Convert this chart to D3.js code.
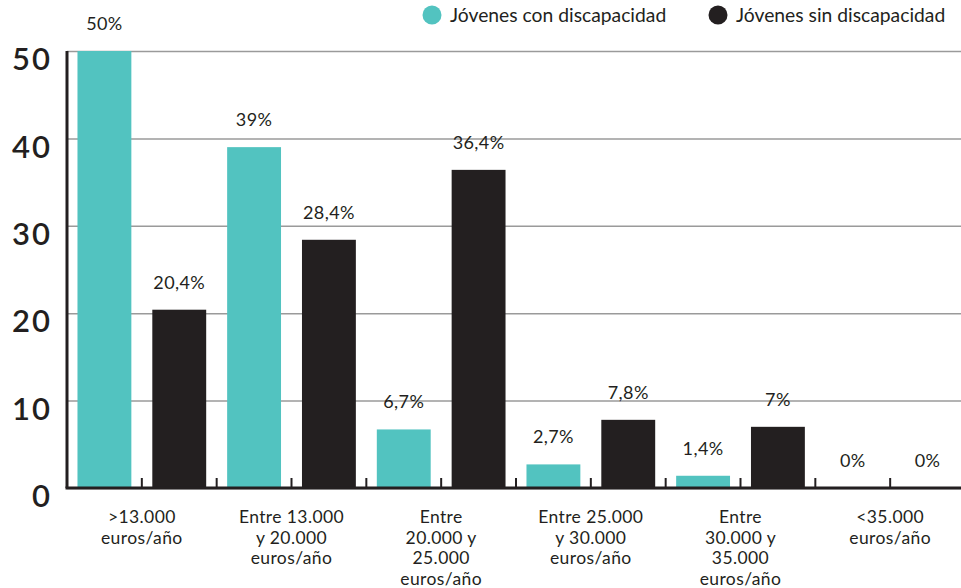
<!DOCTYPE html>
<html>
<head>
<meta charset="utf-8">
<script src="https://cdn.jsdelivr.net/npm/d3@7/dist/d3.min.js"></script>
<style>
  html, body { margin: 0; padding: 0; background: #fff; }
  svg { display: block; font-family: Lato, "Noto Sans", sans-serif; }
</style>
</head>
<body>
<svg id="chart" width="961" height="588"></svg>
<script>
// Income brackets (one label line per entry)
const categories = [
  [">13.000", "euros/año"],
  ["Entre 13.000", "y 20.000", "euros/año"],
  ["Entre", "20.000 y", "25.000", "euros/año"],
  ["Entre 25.000", "y 30.000", "euros/año"],
  ["Entre", "30.000 y", "35.000", "euros/año"],
  ["<35.000", "euros/año"]
];
const seriesNames = ["Jóvenes con discapacidad", "Jóvenes sin discapacidad"];
const conDiscapacidad = [50, 39, 6.7, 2.7, 1.4, 0];
const sinDiscapacidad = [20.4, 28.4, 36.4, 7.8, 7, 0];
const yTicks = [0, 10, 20, 30, 40, 50];

const colors = ["#52c3c0", "#231f20"];
const textColor = "#231f20";

const svg = d3.select("#chart");
const W = 961, H = 588;
const plotLeft = 67, plotRight = 965, plotTop = 51, plotBottom = 488;

const catKeys = categories.map(c => c.join(" "));
const x0 = d3.scaleBand().domain(catKeys).range([plotLeft, plotRight]).paddingInner(0).paddingOuter(0);
const x1 = d3.scaleBand().domain([0, 1]).range([0, x0.bandwidth()]).paddingInner(0.28).paddingOuter(0.14);
const y = d3.scaleLinear().domain([0, 50]).range([plotBottom, plotTop]);

// Horizontal grid lines + y tick labels
const yAxis = d3.axisLeft(y).tickValues(yTicks).tickSize(-(W - plotLeft)).tickFormat(d => d);
const gy = svg.append("g").attr("transform", `translate(${plotLeft},0)`).call(yAxis);
gy.select(".domain").remove();
gy.selectAll(".tick line").attr("stroke", "#9a9a9a").attr("stroke-width", 1.5);
gy.selectAll(".tick text")
  .attr("x", -15).attr("dy", "0.6em")
  .attr("fill", textColor)
  .style("font-size", "31px").style("font-weight", 600)
  .style("font-family", "Lato, sans-serif").style("letter-spacing", "2px");

// Bars
const rows = catKeys.map((k, i) => ({ key: k, values: [conDiscapacidad[i], sinDiscapacidad[i]] }));
const groups = svg.append("g").selectAll("g").data(rows).join("g")
  .attr("transform", d => `translate(${x0(d.key)},0)`);

groups.selectAll("rect").data(d => d.values.map((v, s) => ({ v, s }))).join("rect")
  .attr("x", d => x1(d.s))
  .attr("width", x1.bandwidth())
  .attr("y", d => y(d.v))
  .attr("height", d => y(0) - y(d.v))
  .attr("fill", d => colors[d.s]);

// Value labels
const fmt = v => String(v).replace(".", ",") + "%";
groups.selectAll("text.val").data(d => d.values.map((v, s) => ({ v, s }))).join("text")
  .attr("class", "val")
  .attr("x", d => x1(d.s) + x1.bandwidth() / 2)
  .attr("y", d => y(d.v) - 21)
  .attr("text-anchor", "middle")
  .attr("fill", textColor)
  .style("font-size", "18px")
  .style("letter-spacing", "0.4px")
  .text(d => fmt(d.v));

// Baseline with small ticks between bars
const axisG = svg.append("g");
const tickXs = [];
catKeys.forEach(k => {
  tickXs.push(x0(k) + x0.bandwidth() / 2);
  tickXs.push(x0(k) + x0.bandwidth());
});
axisG.selectAll("line.tk").data(tickXs).join("line")
  .attr("class", "tk")
  .attr("x1", d => d).attr("x2", d => d)
  .attr("y1", y(0)).attr("y2", y(0) - 10)
  .attr("stroke", textColor).attr("stroke-width", 2);
axisG.append("line")
  .attr("x1", plotLeft - 1.5).attr("x2", W)
  .attr("y1", y(0)).attr("y2", y(0))
  .attr("stroke", textColor).attr("stroke-width", 3);
axisG.append("line")
  .attr("x1", plotLeft).attr("x2", plotLeft)
  .attr("y1", y(50)).attr("y2", y(0))
  .attr("stroke", textColor).attr("stroke-width", 3);

// Category labels, one text element per line
const labelLines = [];
rows.forEach((r, i) => {
  categories[i].forEach((l, j) => labelLines.push({ key: r.key, l, j }));
});
svg.append("g").selectAll("text").data(labelLines).join("text")
  .attr("x", d => x0(d.key) + x0.bandwidth() / 2)
  .attr("y", d => 523 + d.j * 20.7)
  .attr("text-anchor", "middle")
  .attr("fill", textColor)
  .style("font-size", "17.5px")
  .style("letter-spacing", "0.4px")
  .text(d => d.l);

// Legend
const legend = svg.append("g");
const legendItems = [
  { name: seriesNames[0], color: colors[0], cx: 432 },
  { name: seriesNames[1], color: colors[1], cx: 718 }
];
const li = legend.selectAll("g").data(legendItems).join("g");
li.append("circle").attr("cx", d => d.cx).attr("cy", 15).attr("r", 9.5).attr("fill", d => d.color);
li.append("text")
  .attr("x", d => d.cx + 18).attr("y", 22)
  .attr("fill", textColor)
  .style("font-size", "19.3px")
  .text(d => d.name);
</script>
</body>
</html>
